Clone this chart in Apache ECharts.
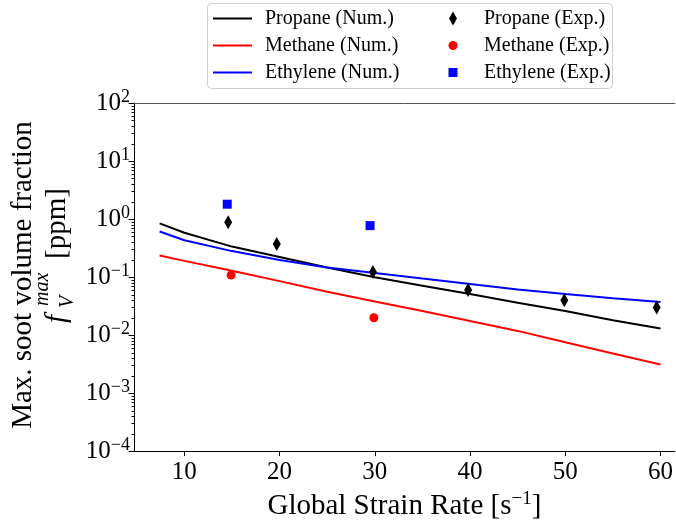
<!DOCTYPE html>
<html><head><meta charset="utf-8">
<script src="https://cdn.jsdelivr.net/npm/echarts@6/dist/echarts.min.js"></script>
<style>html,body{margin:0;padding:0;background:#fff}#c{width:676px;height:526px}</style>
</head><body><div id="c"></div>
<script>
// ---- data ----
const strainNum = [7.4, 10, 15, 20, 25, 30, 35, 40, 45, 50, 55, 60];
const propaneNum = [0.84, 0.58, 0.335, 0.222, 0.146, 0.099, 0.071, 0.051, 0.036, 0.026, 0.018, 0.013];
const methaneNum = [0.236, 0.19, 0.128, 0.085, 0.056, 0.038, 0.026, 0.0175, 0.0118, 0.0075, 0.0048, 0.0031];
const ethyleneNum = [0.61, 0.43, 0.28, 0.197, 0.146, 0.117, 0.094, 0.076, 0.061, 0.051, 0.043, 0.037];

const propaneExpX = [14.6, 19.7, 29.8, 39.8, 49.9, 59.6];
const propaneExpY = [0.88, 0.37, 0.122, 0.060, 0.040, 0.030];
const methaneExpX = [14.9, 29.9];
const methaneExpY = [0.108, 0.0199];
const ethyleneExpX = [14.5, 29.5];
const ethyleneExpY = [1.8, 0.77];

const xTickVals = [10, 20, 30, 40, 50, 60];
const yMinorTicks = [
  2e-4,3e-4,4e-4,5e-4,6e-4,7e-4,8e-4,9e-4,
  2e-3,3e-3,4e-3,5e-3,6e-3,7e-3,8e-3,9e-3,
  0.02,0.03,0.04,0.05,0.06,0.07,0.08,0.09,
  0.2,0.3,0.4,0.5,0.6,0.7,0.8,0.9,
  2,3,4,5,6,7,8,9,
  20,30,40,50,60,70,80,90
];

const X_MIN = 4.71, X_MAX = 61.5;
const FONT = 'Liberation Serif';
const LINE_ICON = 'path://M0,0H39V2H0Z';

const pairs = (xs, ys) => xs.map((x, i) => [x, ys[i]]);

const chart = echarts.init(document.getElementById('c'), null, {renderer: 'canvas'});

const lineSeries = (name, ys, color) => ({
  name, type: 'line', data: pairs(strainNum, ys), symbol: 'none', showSymbol: false,
  lineStyle: {color, width: 2}, itemStyle: {color, opacity: 1}, z: 2, silent: true
});

const legendText = (pad) => ({fontFamily: FONT, fontSize: 20, color: '#000', lineHeight: 20, padding: [0, 0, 0, pad]});

const option = {
  animation: false,
  backgroundColor: '#fff',
  grid: {left: 134, right: 0, top: 103, bottom: 71},
  xAxis: [{
    type: 'value', min: X_MIN, max: X_MAX,
    axisLine: {show: true, onZero: false, lineStyle: {color: '#000', width: 1}},
    axisTick: {show: true, inside: false, length: 5, customValues: xTickVals, lineStyle: {color: '#000'}},
    axisLabel: {customValues: xTickVals, fontFamily: FONT, fontSize: 25, color: '#000', margin: 9},
    splitLine: {show: false},
    name: '{n|Global Strain Rate [s}{s|\u22121}{n|]}',
    nameLocation: 'middle', nameGap: 34,
    nameTextStyle: {
      rich: {
        n: {fontFamily: FONT, fontSize: 29, color: '#000'},
        s: {fontFamily: FONT, fontSize: 19, color: '#000', padding: [0, 0, 14, 0]}
      }
    }
  }, {
    type: 'value', position: 'top', min: X_MIN, max: X_MAX,
    axisLine: {show: true, onZero: false, lineStyle: {color: '#555', width: 1}},
    axisTick: {show: false}, axisLabel: {show: false}, splitLine: {show: false}
  }],
  yAxis: {
    type: 'log', logBase: 10, min: 1e-4, max: 100, interval: 1,
    axisLine: {show: true, onZero: false, lineStyle: {color: '#000', width: 1}},
    axisTick: {show: true, inside: false, length: 5.5, lineStyle: {color: '#000'}},
    minorTick: {show: false},
    splitLine: {show: false},
    axisLabel: {
      margin: 4,
      formatter: (v) => {
        const e = Math.round(Math.log10(v));
        return '{b|10}{s|' + (e < 0 ? '\u2212' + (-e) : e) + '}';
      },
      rich: {
        b: {fontFamily: FONT, fontSize: 25, color: '#000'},
        s: {fontFamily: FONT, fontSize: 18, color: '#000', padding: [0, 0, 12, 0]}
      }
    }
  },
  legend: [
    {
      data: [
        {name: 'Propane (Num.)', icon: LINE_ICON},
        {name: 'Methane (Num.)', icon: LINE_ICON},
        {name: 'Ethylene (Num.)', icon: LINE_ICON}
      ],
      orient: 'vertical', left: 213, top: 8.5, padding: 0, symbolKeepAspect: true,
      itemWidth: 39, itemHeight: 14, itemGap: 7, selectedMode: false,
      textStyle: legendText(8)
    },
    {
      data: [{name: 'Propane (Exp.)', icon: 'diamond'}],
      left: 449, top: 8.5, padding: 0, itemWidth: 8, itemHeight: 14, selectedMode: false,
      itemStyle: {opacity: 1},
      textStyle: legendText(22)
    },
    {
      data: [{name: 'Methane (Exp.)', icon: 'circle'}],
      left: 448.5, top: 35.5, padding: 0, itemWidth: 9, itemHeight: 9, selectedMode: false,
      itemStyle: {opacity: 1},
      textStyle: legendText(21.5)
    },
    {
      data: [{name: 'Ethylene (Exp.)', icon: 'rect'}],
      left: 448.5, top: 62.5, padding: 0, itemWidth: 9, itemHeight: 9, selectedMode: false,
      itemStyle: {opacity: 1},
      textStyle: legendText(21.5)
    }
  ],
  graphic: [
    {type: 'rect', z: 0, shape: {x: 207.5, y: 3.5, width: 405, height: 85, r: 4},
     style: {fill: '#fff', stroke: '#d0d0d0', lineWidth: 1}},
    {type: 'text', x: 23, y: 275, rotation: Math.PI / 2,
     style: {text: 'Max. soot volume fraction', fontFamily: FONT, fontSize: 29, fill: '#000', align: 'center', verticalAlign: 'middle'}},
    {type: 'text', x: 57, y: 323, rotation: Math.PI / 2,
     style: {text: 'f', fontFamily: FONT, fontStyle: 'italic', fontSize: 29, fill: '#000', align: 'left', verticalAlign: 'middle'}},
    {type: 'text', x: 43, y: 306, rotation: Math.PI / 2,
     style: {text: 'max', fontFamily: FONT, fontStyle: 'italic', fontSize: 20, fill: '#000', align: 'left', verticalAlign: 'middle'}},
    {type: 'text', x: 67.5, y: 308, rotation: Math.PI / 2,
     style: {text: 'V', fontFamily: FONT, fontStyle: 'italic', fontSize: 20, fill: '#000', align: 'left', verticalAlign: 'middle'}},
    {type: 'text', x: 57, y: 259, rotation: Math.PI / 2,
     style: {text: '[ppm]', fontFamily: FONT, fontSize: 29, fill: '#000', align: 'left', verticalAlign: 'middle'}}
  ],
  series: [
    lineSeries('Propane (Num.)', propaneNum, '#000000'),
    lineSeries('Methane (Num.)', methaneNum, '#ff0000'),
    lineSeries('Ethylene (Num.)', ethyleneNum, '#0000ff'),
    {name: 'Propane (Exp.)', type: 'scatter', data: pairs(propaneExpX, propaneExpY),
     symbol: 'diamond', symbolSize: [8, 14], itemStyle: {color: '#000000', opacity: 1}, z: 3, silent: true},
    {name: 'Methane (Exp.)', type: 'scatter', data: pairs(methaneExpX, methaneExpY),
     symbol: 'circle', symbolSize: 9, itemStyle: {color: '#ff0000', opacity: 1}, z: 3, silent: true},
    {name: 'Ethylene (Exp.)', type: 'scatter', data: pairs(ethyleneExpX, ethyleneExpY),
     symbol: 'rect', symbolSize: 9, itemStyle: {color: '#0000ff', opacity: 1}, z: 3, silent: true},
    {
      name: 'yMinorTicks', type: 'custom', silent: true, clip: false,
      data: yMinorTicks.map(v => [X_MIN, v]),
      encode: {x: 0, y: 1},
      renderItem: (params, api) => {
        const p = api.coord([api.value(0), api.value(1)]);
        const x = Math.round(p[0]) + 0.5, y = Math.round(p[1]) + 0.5;
        return {type: 'line', shape: {x1: x - 3, y1: y, x2: x, y2: y}, style: {stroke: '#000', lineWidth: 1}};
      }
    }
  ]
};
chart.setOption(option);
</script>
</body></html>
